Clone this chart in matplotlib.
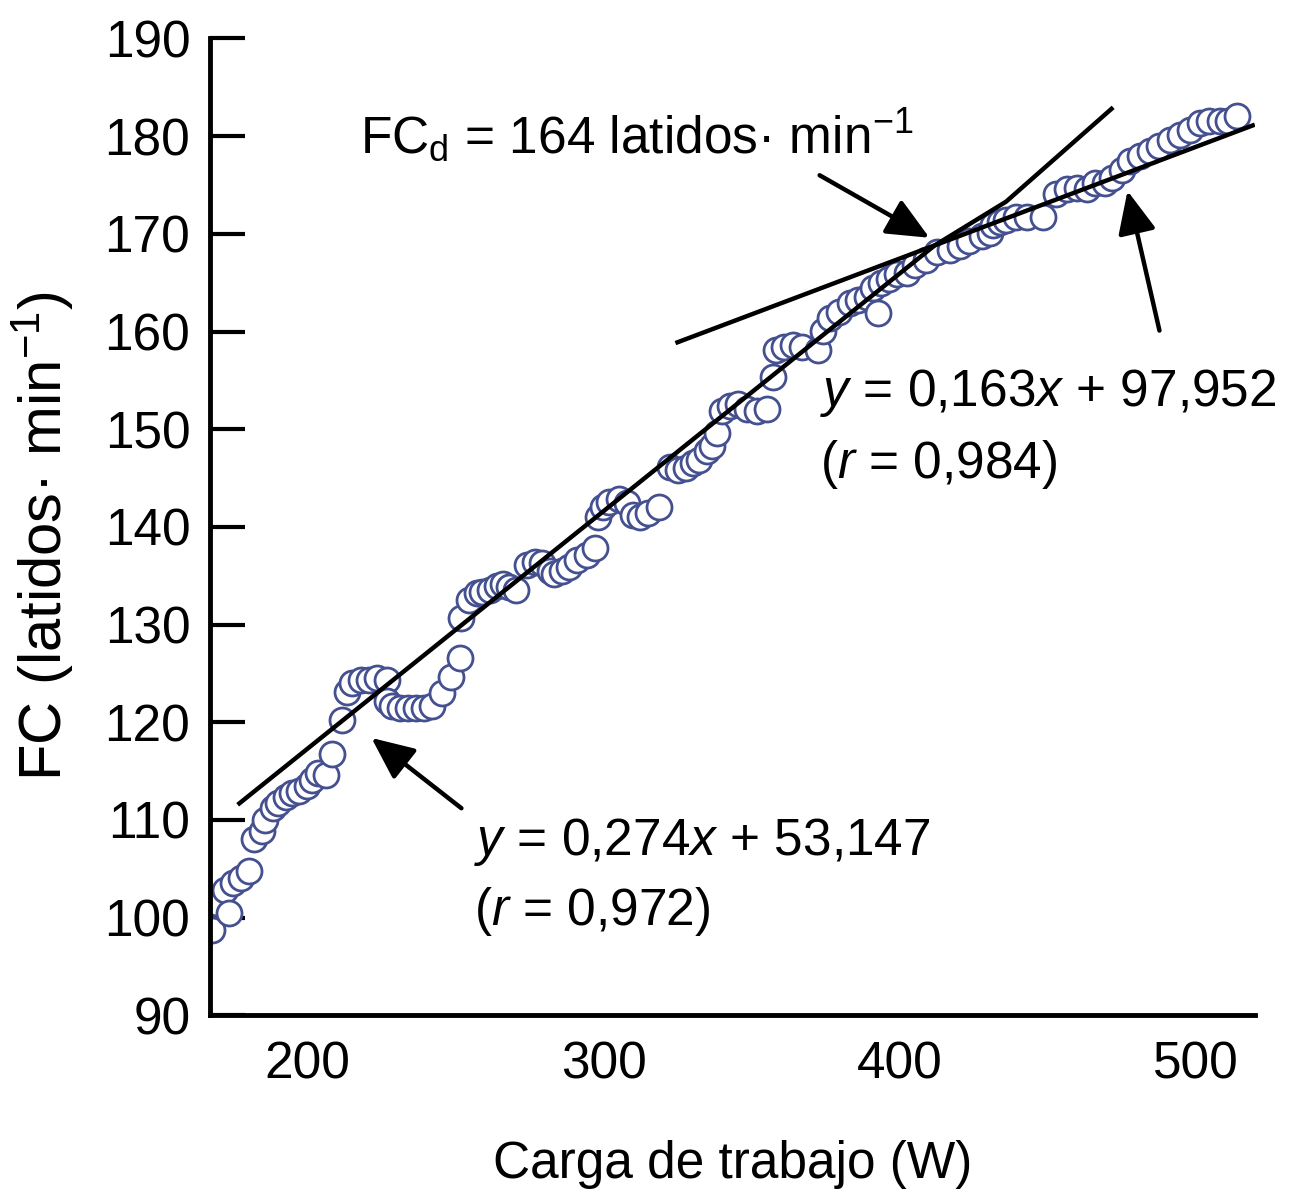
import matplotlib
matplotlib.use("Agg")
import matplotlib.pyplot as plt

plt.rcParams['font.family'] = ['Liberation Sans', 'DejaVu Sans']
plt.rcParams['mathtext.fontset'] = 'custom'
plt.rcParams['mathtext.rm'] = 'Liberation Sans'
plt.rcParams['mathtext.it'] = 'Liberation Sans:italic'

# workload (W) and heart rate (beats/min) during the incremental test
carga = [167.6, 169.6, 172.0, 173.6, 174.7, 177.7, 180.4, 182.1, 184.8, 185.5,
         188.2, 189.9, 192.9, 194.9, 197.3, 199.7, 201.4, 203.4, 206.4, 208.4,
         211.5, 213.5, 215.2, 218.2, 220.9, 223.6, 226.7, 227.0, 228.7, 231.1,
         233.8, 236.8, 239.5, 242.2, 245.6, 248.6, 251.4, 252.0, 254.7, 257.1,
         259.1, 261.5, 263.9, 265.9, 268.2, 270.6, 274.3, 276.7, 279.1, 281.8,
         283.4, 286.1, 288.5, 291.2, 294.3, 297.0, 298.0, 299.7, 302.0, 305.1,
         307.8, 309.8, 312.2, 314.9, 318.9, 322.3, 325.0, 328.0, 330.1, 332.4,
         335.1, 336.8, 338.5, 339.9, 342.6, 345.3, 348.6, 351.7, 355.1, 357.1,
         358.4, 361.1, 363.9, 366.9, 372.3, 374.0, 376.4, 379.7, 383.1, 385.8,
         388.9, 392.6, 390.9, 393.9, 396.6, 399.0, 402.4, 405.1, 409.1, 412.5,
         416.9, 420.3, 423.6, 427.7, 430.4, 431.4, 433.8, 436.1, 439.5, 442.9,
         448.3, 453.0, 456.4, 459.8, 463.2, 465.9, 469.3, 471.6, 475.0, 477.7,
         481.1, 484.5, 487.8, 491.2, 494.6, 498.0, 501.4, 504.7, 508.1, 510.8,
         513.9]
fc = [98.7, 101.5, 102.8, 100.5, 103.5, 104.1, 104.8, 108.1, 108.9, 110.0,
      111.2, 111.7, 112.3, 112.8, 113.0, 113.5, 114.1, 114.8, 114.6, 116.8,
      120.2, 123.1, 124.0, 124.3, 124.3, 124.5, 124.3, 122.2, 121.7, 121.5,
      121.5, 121.5, 121.5, 121.7, 123.0, 124.6, 126.6, 130.7, 132.5, 133.2,
      133.3, 133.5, 134.0, 134.2, 133.8, 133.5, 136.1, 136.4, 136.3, 135.5,
      135.2, 135.5, 135.9, 136.6, 137.1, 137.8, 141.0, 142.0, 142.5, 142.9,
      142.4, 141.2, 141.0, 141.4, 142.0, 146.1, 145.8, 146.0, 146.5, 146.8,
      147.8, 148.3, 149.6, 151.9, 152.4, 152.6, 152.1, 151.9, 152.1, 155.3,
      158.1, 158.4, 158.6, 158.4, 158.1, 160.1, 161.4, 162.0, 162.9, 163.2,
      163.5, 161.9, 164.5, 165.0, 165.4, 165.9, 166.0, 166.8, 167.3, 168.1,
      168.3, 168.8, 169.3, 169.8, 170.1, 170.9, 171.2, 171.4, 171.7, 171.7,
      171.7, 174.1, 174.6, 174.7, 174.6, 175.2, 175.2, 175.7, 176.5, 177.5,
      178.0, 178.5, 179.0, 179.6, 180.1, 180.6, 181.3, 181.6, 181.6, 181.6,
      182.1]

# hand-fitted regression lines (below / above the deflection point)
recta1_x = [177.0, 411.8, 436.0, 471.6]
recta1_y = [111.7, 168.8, 173.3, 182.8]
recta2_x = [325.0, 519.3]
recta2_y = [158.9, 181.1]

fig = plt.figure(figsize=(13.03, 12.03), dpi=100)
ax = fig.add_axes([0.161, 0.156, 0.802, 0.812])

ax.plot(carga, fc, 'o', ms=18, mfc='white', mec='#44508f', mew=2.0, zorder=2)
ax.plot(recta1_x, recta1_y, color='black', lw=3.2, zorder=3)
ax.plot(recta2_x, recta2_y, color='black', lw=3.2, zorder=3)

ax.set_xlim(167, 520)
ax.set_ylim(90, 190)
ax.set_xticks([200, 300, 400, 500])
ax.set_yticks(range(90, 191, 10))
for s in ['top', 'right']:
    ax.spines[s].set_visible(False)
for s in ['left', 'bottom']:
    ax.spines[s].set_linewidth(3.5)
ax.tick_params(axis='y', direction='in', length=25, width=3, pad=14, labelsize=37)
ax.tick_params(axis='x', length=0, pad=18, labelsize=37)

ax.set_xlabel('Carga de trabajo (W)', fontsize=37)
ax.xaxis.set_label_coords(0.5, -0.128)
ax.set_ylabel('FC (latidos· min$^{\\mathrm{-1}}$)', fontsize=43)
ax.yaxis.set_label_coords(-0.128, 0.49)

fs = 37
ax.text(217.6, 178.2, 'FC$_{\\mathrm{d}}$ = 164 latidos· min$^{\\mathrm{-1}}$', fontsize=fs)
ax.text(373.0, 152.4, '$y$ = 0,163$x$ + 97,952', fontsize=fs)
ax.text(373.0, 145.0, '($r$ = 0,984)', fontsize=fs)
ax.text(256.4, 106.4, '$y$ = 0,274$x$ + 53,147', fontsize=fs)
ax.text(256.4, 99.2, '($r$ = 0,972)', fontsize=fs)

flecha = dict(arrowstyle='-|>,head_length=1.0,head_width=0.45', lw=3.2,
              color='black', shrinkA=0, shrinkB=0, mutation_scale=26)
ax.annotate('', xy=(410.1, 169.6), xytext=(373.0, 176.0), arrowprops=flecha)
ax.annotate('', xy=(477.0, 174.4), xytext=(487.8, 160.1), arrowprops=flecha)
ax.annotate('', xy=(221.6, 118.4), xytext=(252.0, 111.2), arrowprops=flecha)

fig.savefig('out.png', dpi=100)
